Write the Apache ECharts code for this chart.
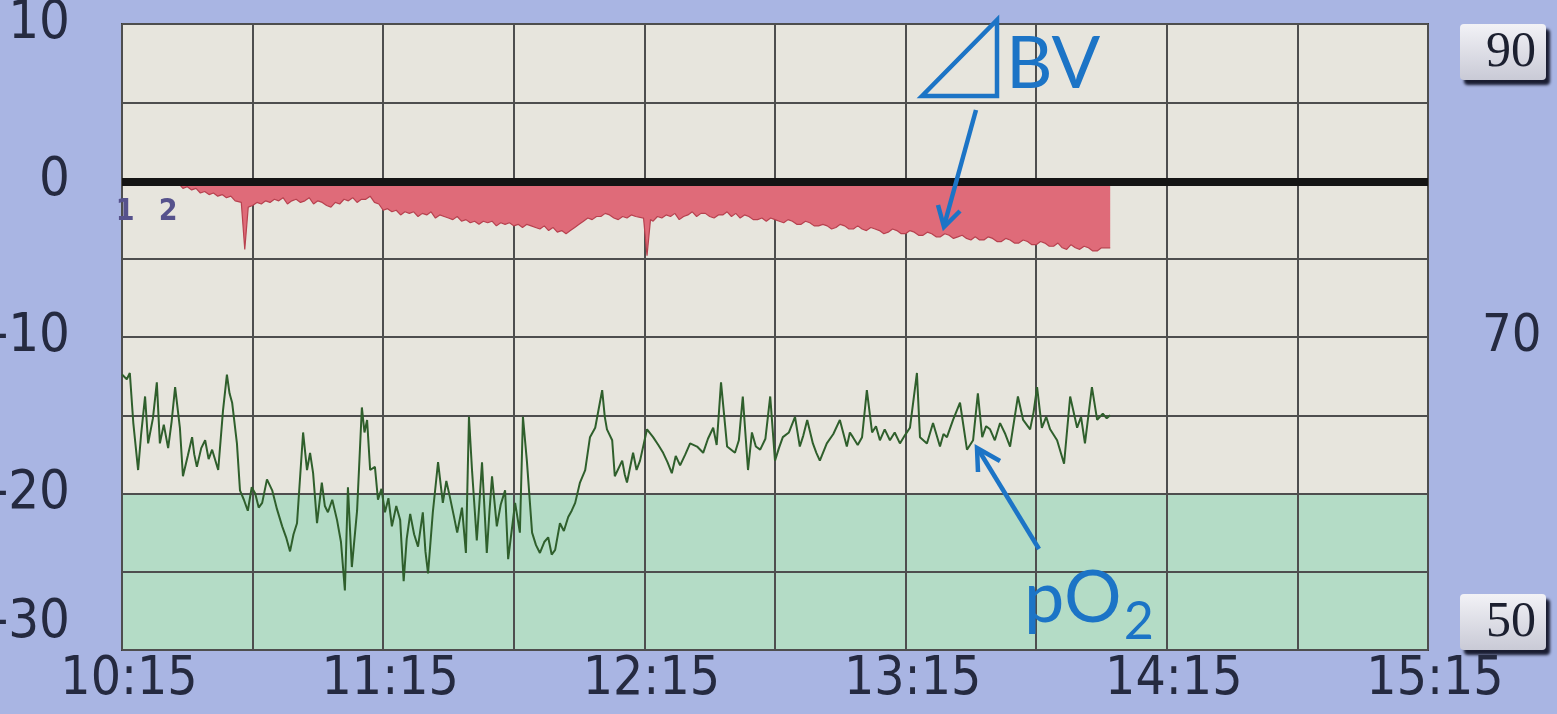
<!DOCTYPE html>
<html>
<head>
<meta charset="utf-8">
<script src="https://cdn.jsdelivr.net/npm/echarts@6/dist/echarts.min.js"></script>
<style>
  html, body { margin: 0; padding: 0; background: #a9b5e3; }
  #chart { width: 1557px; height: 714px; }
</style>
</head>
<body>
<div id="chart"></div>
<script>
// minutes after 10:15, tick labels every hour
var timeLabels = ['10:15', '11:15', '12:15', '13:15', '14:15', '15:15'];
var rightLabels = ['50', '70', '90'];
var eventMarks = [['1', 0.7, -2.0], ['2', 10.6, -2.0]];

// blood volume change [min, %]
var bvData = [
    [0, 0], [2, 0], [4, 0], [6, -0.05], [8, -0.05], [10, -0.1], [12, -0.3], [13, -0.2], [14, -0.5],
    [15, -0.4], [16, -0.6], [17, -0.5], [18, -0.8], [19, -0.7], [20, -0.9], [21, -0.8], [22, -1.0],
    [23, -0.9], [24, -1.1], [25, -1.0], [26, -1.3], [27.4, -1.4],
    [28.2, -4.4], [29, -1.7], [30, -1.6], [31, -1.4], [32, -1.5], [33, -1.3], [34, -1.4], [35, -1.2],
    [36, -1.3], [37, -1.1], [38, -1.5], [39, -1.3],
    [40, -1.2], [41, -1.4], [42, -1.3], [43, -1.1], [44, -1.5], [45, -1.3], [46, -1.4], [47, -1.6],
    [48, -1.7], [49, -1.4], [50, -1.5], [51, -1.2], [52, -1.3], [53, -1.1],
    [54, -1.4], [55, -1.2], [56, -1.2], [57, -1.0], [58, -1.4], [59, -1.5], [60, -1.9], [61, -1.8],
    [62, -2.0], [63, -1.9], [64, -2.2], [65, -2.0], [66, -2.1], [67, -2.0],
    [68, -2.3], [69, -2.1], [70, -2.2], [71, -2.0], [72, -2.4], [73, -2.2], [74, -2.3], [75, -2.4],
    [76, -2.5], [77, -2.3], [78, -2.6], [79, -2.5], [80, -2.7], [81, -2.6],
    [82, -2.8], [83, -2.6], [84, -2.7], [85, -2.6], [86, -2.9], [87, -2.7], [88, -2.8], [89, -2.7],
    [90, -2.9], [91, -2.8], [92, -3.0], [93, -2.8], [94, -2.9], [95, -3.0],
    [96, -3.1], [97, -2.9], [98, -3.2], [99, -3.0], [100, -3.3], [101, -3.2], [102, -3.4], [103, -3.2],
    [104, -3.0], [105, -2.8], [106, -2.6], [107, -2.4], [108, -2.5], [109, -2.3],
    [110, -2.3], [111, -2.1], [112, -2.2], [113, -2.4], [114, -2.5], [115, -2.3], [116, -2.4],
    [117, -2.2], [118, -2.3], [119.8, -2.4],
    [120.6, -4.8], [121.4, -2.5], [122, -2.6], [123, -2.3], [124, -2.4], [125, -2.2], [126, -2.3],
    [127, -2.1], [128, -2.5], [129, -2.3],
    [130, -2.2], [131, -2.0], [132, -2.3], [133, -2.1], [134, -2.1], [135, -2.3], [136, -2.4],
    [137, -2.2], [138, -2.2], [139, -2.0], [140, -2.3], [141, -2.1], [142, -2.4],
    [143, -2.2], [144, -2.3], [145, -2.5], [146, -2.5], [147, -2.4], [148, -2.6], [149, -2.4],
    [150, -2.5], [151, -2.6], [152, -2.7], [153, -2.5], [154, -2.6], [155, -2.8], [156, -2.8],
    [157, -2.6], [158, -2.7], [159, -2.9], [160, -2.9], [161, -2.8], [162, -2.9], [163, -3.1],
    [164, -3.0], [165, -2.8], [166, -2.9], [167, -3.1], [168, -3.1], [169, -2.9], [170, -3.1],
    [171, -3.2], [172, -3.0], [173, -3.1], [174, -3.2], [175, -3.4], [176, -3.3], [177, -3.1],
    [178, -3.2], [179, -3.4], [180, -3.4], [181, -3.2], [182, -3.3], [183, -3.5], [184, -3.5],
    [185, -3.3], [186, -3.4], [187, -3.6], [188, -3.6], [189, -3.4], [190, -3.5], [191, -3.7],
    [192, -3.6], [193, -3.5], [194, -3.7], [195, -3.8], [196, -3.6], [197, -3.8], [198, -3.8],
    [199, -3.6], [200, -3.7], [201, -3.9], [202, -3.9], [203, -3.7], [204, -3.8], [205, -4.0],
    [206, -4.0], [207, -3.8], [208, -3.9], [209, -4.1], [210, -4.1], [211, -3.9], [212, -4.0],
    [213, -4.2], [214, -4.2], [215, -4.0], [216, -4.3], [217, -4.4], [218, -4.1], [219, -4.3],
    [220, -4.4], [221, -4.2], [222, -4.3], [223, -4.5], [224, -4.5], [225, -4.3], [226, -4.3],
    [227, -4.3]
];

// pO2 [min, mmHg]
var po2Data = [
    [0, 67.6], [1.1, 67.3], [1.8, 67.7], [2.6, 64.5], [3.7, 61.5], [4.4, 63.8], [5.3, 66.2], [6.0, 63.2],
    [7.1, 64.8], [8.0, 67.1], [8.7, 63.2], [9.6, 64.4], [10.6, 62.9], [11.4, 64.6], [12.2, 66.8],
    [13.3, 64.2], [14.0, 61.1], [15.1, 62.4], [16.1, 63.6], [16.6, 62.5],
    [17.2, 61.7], [18.2, 62.9], [19.1, 63.4], [19.9, 62.2], [20.7, 62.8], [22.1, 61.5], [23.2, 65.3],
    [24.1, 67.6], [24.7, 66.4],
    [25.3, 65.8], [26.4, 63.2], [27.1, 60.2], [28.0, 59.6], [28.9, 58.9], [29.8, 60.4], [30.6, 60.0],
    [31.4, 59.1], [32.2, 59.4],
    [33.3, 60.9], [34.5, 60.2], [35.6, 59.0], [36.8, 57.9], [37.7, 57.2], [38.6, 56.3], [39.4, 57.4],
    [40.2, 58.1], [41.6, 63.9],
    [42.5, 61.5], [43.2, 62.6], [43.9, 61.3], [44.8, 58.1], [45.9, 60.7], [46.6, 59.2], [47.3, 58.8],
    [48.3, 59.6], [49.4, 58.3],
    [50.3, 56.9], [51.2, 53.8], [51.9, 60.4], [52.8, 55.3], [54.0, 58.9], [55.1, 65.5], [55.7, 63.9],
    [56.3, 64.7], [57.0, 61.5], [58.1, 61.7], [58.8, 59.6], [59.6, 60.3], [60.4, 58.8], [61.2, 59.7],
    [62.0, 57.9], [63.0, 59.2], [63.9, 58.3],
    [64.7, 54.4], [65.4, 57.1], [66.2, 58.7], [67.1, 57.4], [68.0, 56.6], [69.1, 58.8], [69.7, 56.3],
    [70.3, 54.9], [71.4, 58.8], [72.0, 60.4],
    [72.6, 62.0], [73.7, 59.4], [74.5, 60.8], [75.3, 59.8], [76.2, 58.6], [77.0, 57.5], [78.1, 59.1],
    [79.0, 56.2], [79.7, 64.9], [80.4, 61.5], [81.5, 57.0], [82.1, 59.4], [82.7, 62.0], [83.8, 56.2],
    [84.4, 58.8], [85.0, 61.1], [86.1, 57.9], [87.0, 59.3], [88.0, 60.2], [88.7, 55.8], [89.5, 57.6],
    [90.3, 59.4], [91.4, 57.5], [92.1, 64.9],
    [93.0, 62.1], [94.2, 57.5], [95.1, 56.7], [96.0, 56.2], [97.0, 56.9], [97.9, 57.2], [98.7, 56.1],
    [99.5, 56.4], [100.6, 58.1], [101.5, 57.6],
    [102.5, 58.5], [103.3, 58.9], [104.1, 59.4], [105.2, 60.7], [106.4, 61.5], [107.5, 63.6],
    [108.7, 64.2], [109.5, 65.4], [110.3, 66.6], [110.9, 64.9], [111.4, 64.1], [112.6, 63.4],
    [113.2, 61.1], [114.9, 62.1], [115.5, 61.2], [116.0, 60.7],
    [117.4, 62.6], [118.2, 61.5], [119.0, 62.1], [120.6, 64.1], [122.0, 63.6], [123.2, 63.1],
    [124.3, 62.6], [125.3, 62.0], [126.3, 61.3], [127.2, 62.4],
    [128.2, 61.8], [129.4, 62.5], [130.5, 63.2], [132.1, 63.0], [133.5, 62.6], [134.6, 63.5],
    [135.8, 64.2], [136.6, 63.1], [137.6, 67.1],
    [139.0, 63.0], [140.8, 62.6], [141.7, 63.4], [142.6, 66.2], [143.8, 61.5], [144.7, 63.9],
    [145.6, 63.0], [146.6, 62.8], [147.8, 63.5],
    [148.9, 66.2], [150.0, 62.1], [150.9, 62.9], [151.8, 63.6], [153.2, 63.9], [154.6, 64.9],
    [155.7, 63.0], [156.5, 63.7], [157.4, 64.7],
    [158.7, 63.2], [159.5, 62.6], [160.3, 62.1], [161.9, 63.2], [163.4, 63.8], [164.9, 64.7],
    [166.5, 63.0], [167.2, 63.9], [167.9, 63.6],
    [169.0, 63.1], [170.0, 63.6], [171.1, 66.6], [172.3, 63.9], [173.2, 64.3], [174.1, 63.4],
    [175.2, 64.1], [176.4, 63.4], [177.5, 63.9], [178.7, 63.2],
    [179.8, 63.7], [181.0, 64.2], [182.6, 67.7], [183.3, 63.6], [184.9, 63.2], [186.3, 64.5],
    [187.9, 63.0], [188.7, 63.8],
    [189.5, 63.6], [190.9, 64.7], [192.5, 65.8], [194.1, 62.8], [195.5, 63.4], [196.6, 66.4],
    [197.6, 63.6], [198.5, 64.3], [199.4, 64.1], [200.5, 63.4], [201.7, 64.5], [202.9, 63.8],
    [204.0, 63.0], [205.8, 66.2], [207.0, 64.7],
    [208.6, 64.1], [209.4, 65.2], [210.2, 66.8], [211.3, 64.2], [212.3, 64.9], [213.2, 64.1],
    [214.8, 63.4], [216.4, 61.9],
    [217.8, 66.2], [219.4, 64.2], [220.3, 64.9], [221.2, 63.2], [222.8, 66.8], [224.0, 64.7],
    [225.3, 65.1], [226.2, 64.8], [227.0, 65.0]
];

var labelFont = '"Liberation Sans Narrow", "DejaVu Sans Condensed", "DejaVu Sans", sans-serif';
var inkColor = '#252a40';
var blue = '#1c74c6';
var beige = '#e7e5dd';
var mint = '#b4dcc6';

// button look of the right-hand limit labels
var btnStyle = {
    fontFamily: '"Liberation Serif", serif',
    fontSize: 50,
    color: '#1c2030',
    padding: [4, 10, 2, 26],
    backgroundColor: {
        type: 'linear', x: 0, y: 0, x2: 0, y2: 1,
        colorStops: [{ offset: 0, color: '#f2f2f6' }, { offset: 1, color: '#c9cad6' }]
    },
    borderRadius: 4,
    shadowColor: 'rgba(10,12,30,0.9)',
    shadowOffsetX: 4,
    shadowOffsetY: 5,
    shadowBlur: 3
};

var myChart = echarts.init(document.getElementById('chart'));

var option = {
    backgroundColor: '#a9b5e3',
    animation: false,
    grid: {
        left: 122, right: 129, top: 24, bottom: 64,
        containLabel: false,
        outerBoundsMode: 'none',
        show: true,
        backgroundColor: beige,
        borderColor: '#3a3a3a',
        borderWidth: 2
    },
    xAxis: {
        type: 'value',
        min: 0,
        max: 300,
        interval: 30,
        axisLine: { show: false },
        axisTick: { show: false },
        splitLine: { show: true, lineStyle: { color: '#4e4e4e', width: 2 } },
        axisLabel: {
            margin: 4,
            fontFamily: labelFont,
            fontSize: 53,
            color: inkColor,
            padding: [0, 0, 0, 14],
            formatter: function (v) {
                return v % 60 === 0 ? timeLabels[v / 60] : '';
            }
        }
    },
    yAxis: [
        {
            type: 'value',
            min: -30,
            max: 10,
            interval: 5,
            axisLine: { show: false },
            axisTick: { show: false },
            splitLine: { show: true, lineStyle: { color: '#4e4e4e', width: 2 } },
            // bottom two bands are green (low pO2 zone)
            splitArea: {
                show: true,
                areaStyle: { color: [mint, mint, beige, beige, beige, beige, beige, beige] }
            },
            axisLabel: {
                margin: 52,
                fontFamily: labelFont,
                fontSize: 54,
                color: inkColor,
                verticalAlignMinLabel: 'bottom',
                formatter: function (v) {
                    return v % 10 === 0 ? String(v) : '';
                }
            }
        },
        {
            type: 'value',
            position: 'right',
            min: 50,
            max: 90,
            interval: 5,
            axisLine: { show: false },
            axisTick: { show: false },
            splitLine: { show: false },
            axisLabel: {
                margin: 32,
                color: inkColor,
                verticalAlignMinLabel: 'bottom',
                verticalAlignMaxLabel: 'top',
                formatter: function (v) {
                    var s = String(v);
                    if (rightLabels.indexOf(s) < 0) return '';
                    if (s === '70') return '{plain|' + s + '}';
                    return '{btn|' + s + '}';
                },
                rich: {
                    plain: {
                        fontFamily: labelFont,
                        fontSize: 52,
                        color: inkColor,
                        padding: [0, 0, 0, 22]
                    },
                    btn: btnStyle
                }
            }
        }
    ],
    series: [
        {
            name: 'BV',
            type: 'line',
            yAxisIndex: 0,
            data: bvData,
            symbol: 'none',
            lineStyle: { color: '#b8414f', width: 1.2 },
            areaStyle: { color: '#df6b79', opacity: 1, origin: 0 },
            markLine: {
                silent: true,
                symbol: ['none', 'none'],
                label: { show: false },
                lineStyle: { color: '#141414', width: 8, type: 'solid' },
                data: [{ yAxis: -0.1 }]
            },
            markPoint: {
                symbol: 'circle',
                symbolSize: 1,
                itemStyle: { color: 'rgba(0,0,0,0)' },
                label: {
                    show: true,
                    position: 'inside',
                    fontFamily: labelFont,
                    fontWeight: 'bold',
                    fontSize: 30,
                    color: '#56528c',
                    formatter: '{b}'
                },
                data: eventMarks.map(function (m) {
                    return { name: m[0], coord: [m[1], m[2]] };
                })
            }
        },
        {
            name: 'pO2',
            type: 'line',
            yAxisIndex: 1,
            data: po2Data,
            symbol: 'none',
            lineStyle: { color: '#2f5f2c', width: 2 }
        }
    ],
    graphic: [
        {
            type: 'polygon',
            shape: { points: [[922, 96], [997, 20], [997, 96]] },
            style: { fill: 'none', stroke: blue, lineWidth: 4.5, lineJoin: 'miter' },
            z: 100
        },
        {
            type: 'text',
            left: 1006,
            top: 29,
            style: { text: 'BV', fill: blue, font: '72px Lato, "Open Sans", sans-serif' },
            z: 100
        },
        {
            type: 'line',
            shape: { x1: 976, y1: 110, x2: 944, y2: 226 },
            style: { stroke: blue, lineWidth: 4.5 },
            z: 100
        },
        {
            type: 'polyline',
            shape: { points: [[960, 211], [944, 227], [938, 205]] },
            style: { stroke: blue, lineWidth: 4.5, fill: 'none' },
            z: 100
        },
        {
            type: 'line',
            shape: { x1: 1039, y1: 549, x2: 978, y2: 449 },
            style: { stroke: blue, lineWidth: 4.5 },
            z: 100
        },
        {
            type: 'polyline',
            shape: { points: [[978, 472], [977, 448], [1000, 461]] },
            style: { stroke: blue, lineWidth: 4.5, fill: 'none' },
            z: 100
        },
        {
            type: 'text',
            left: 1024,
            top: 563,
            style: {
                text: '{a|pO}{b|2}',
                rich: {
                    a: { fontSize: 72, fontFamily: 'Lato, "Open Sans", sans-serif', fill: blue, color: blue },
                    b: { fontSize: 52, fontFamily: 'Lato, "Open Sans", sans-serif', fill: blue, color: blue, padding: [46, 0, 0, 2] }
                }
            },
            z: 100
        }
    ]
};

myChart.setOption(option);
</script>
</body>
</html>
